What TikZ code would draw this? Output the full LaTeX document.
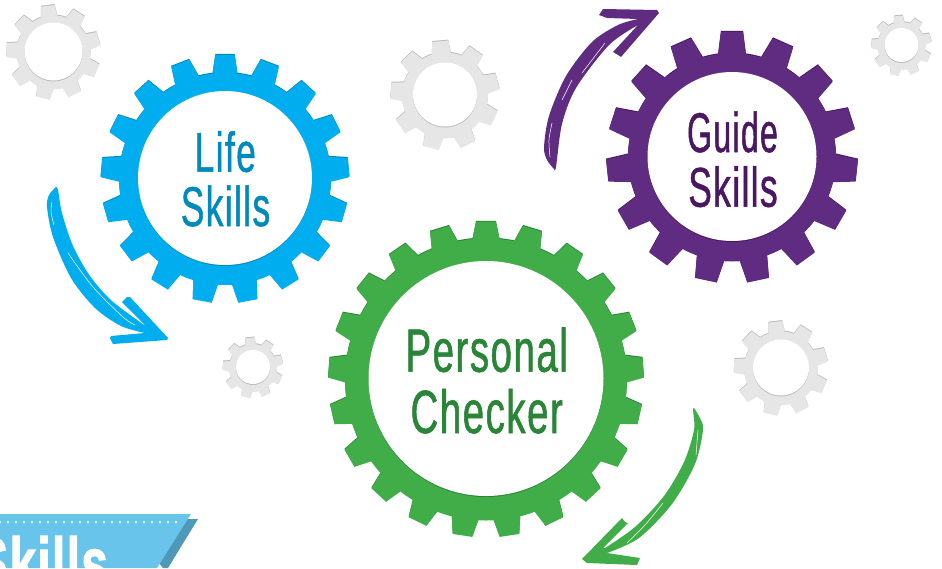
\documentclass[tikz,border=0pt]{standalone}
\usepackage{fontspec}
\usepackage{tikz}
\newfontfamily\gearfont[FakeStretch=0.63,FakeBold=0.9,LetterSpace=2.5]{Liberation Sans}
\newfontfamily\bannerfont[FakeStretch=0.66,FakeBold=1.5,LetterSpace=2]{Liberation Sans}
\definecolor{lifecol}{HTML}{00AEEF}
\definecolor{lifecoldark}{HTML}{0089BD}
\definecolor{guidecol}{HTML}{5F2C82}
\definecolor{guidecoldark}{HTML}{4A1762}
\definecolor{checkcol}{HTML}{41AD49}
\definecolor{checkcoldark}{HTML}{2A8538}
\definecolor{idlecol}{HTML}{E6E6E6}
\definecolor{idlecoldark}{HTML}{BDBDBD}
\definecolor{bannercol}{HTML}{69C4EC}
\definecolor{bannerfold}{HTML}{4F98B8}
\tikzset{
  gearlabel/.style={anchor=base,inner sep=0pt,font=\gearfont\fontsize{56}{56}\selectfont},
  biglabel/.style={gearlabel,font=\gearfont\fontsize{61}{61}\selectfont},
  streak/.style={white,line width=0.5pt,line cap=round},
  bannerdots/.style={white,line width=2.5pt,line cap=round,dash pattern=on 0pt off 8pt}
}
% teeth, rotation, outer radius, root radius
\newcommand{\gearshape}[4]{%
  \fill (0,0) circle (#4);
  \foreach \i in {1,...,#1}{
    \pgfmathsetmacro\a{#2+\i*360/#1}
    \pgfmathsetmacro\w{0.21*360/#1}
    \pgfmathsetmacro\v{0.32*360/#1}
    \fill (\a-\v:#4) -- (\a-\w:#3) -- (\a+\w:#3) -- (\a+\v:#4) -- cycle;
  }
}
% colour, x, y, teeth, rotation, outer, root, hole
\newcommand{\gearwheel}[8]{%
  \begin{scope}[shift={(#2,#3)}]
    \begin{scope}[yshift=1pt,fill=#1dark] \gearshape{#4}{#5}{#6}{#7} \end{scope}
    \begin{scope}[fill=#1] \gearshape{#4}{#5}{#6}{#7} \end{scope}
    \fill[#1dark] (0,0) circle (#8);
    \fill[white] (0,-1) circle (#8);
  \end{scope}
}
\begin{document}
\begin{tikzpicture}[x=1pt,y=-1pt]
\useasboundingbox (0,0) rectangle (942,568);

% idle gears
\gearwheel{idlecol}{53.5}{52.5}{9}{-97}{47.5}{37}{29}
\gearwheel{idlecol}{445}{95.5}{9}{-95}{55}{43}{32}
\gearwheel{idlecol}{901.5}{46}{9}{-96}{30.5}{24}{17}
\gearwheel{idlecol}{253}{368}{9}{-96}{30.5}{24}{17}
\gearwheel{idlecol}{781}{368.5}{9}{-97}{47.5}{37}{28}

% big gears
\gearwheel{lifecol}{225}{179}{17}{-90}{124.5}{106}{87}
\gearwheel{guidecol}{732}{157.5}{15}{-90}{126}{104}{84.5}
\gearwheel{checkcol}{486}{379.5}{21}{-90}{158}{141}{117.5}

\node[gearlabel,lifecoldark] (life) at (225.3,171.7) {Life};
\node[gearlabel,lifecoldark] (lifeskills) at (225.5,226) {Skills};
\node[gearlabel,guidecoldark] (guide) at (732.5,152) {\scalebox{0.91}[1]{Guide}};
\node[gearlabel,guidecoldark] (guideskills) at (733,206.7) {Skills};
\node[biglabel,checkcoldark] (personal) at (486.7,371.7) {Personal};
\node[biglabel,checkcoldark] (checker) at (486.7,433) {Checker};

% blue arrow
\fill[lifecol] plot[smooth] coordinates {(56,187) (49,195) (47,207) (53,237) (71,278) (95,308) (121,326) (145,333)}
  -- (111,336) -- (110,338) -- (113,344) -- (167,340) -- (168,338) -- (130,297) -- (127,297) -- (122,302) -- (147,327)
  -- plot[smooth] coordinates {(147,327) (112,301) (90,276) (73,246) (62,213) (58,190) (56,187)} -- cycle;
\draw[streak] plot[smooth] coordinates {(52,202) (51,212) (54,225)};
\draw[streak] plot[smooth] coordinates {(68,253) (93,287) (123,317) (135,325)};
% purple arrow
\fill[guidecol] plot[smooth] coordinates {(554,169) (547,160) (544,147) (549,116) (566,76) (592,42) (618,25) (638,19)}
  -- (607,18) -- (599,15) -- (603,9) -- (657,10) -- (659,13) -- (621,57) -- (618,55) -- (613,52) -- (638,25)
  -- plot[smooth] coordinates {(638,25) (609,45) (576,88) (562,124) (556,167) (554,169)} -- cycle;
\draw[streak] plot[smooth] coordinates {(550,157) (549,140) (552,123)};
\draw[streak] plot[smooth] coordinates {(562,100) (572,80)};
\draw[streak] plot[smooth] coordinates {(582,73) (605,43)};
% green arrow
\fill[checkcol] plot[smooth] coordinates {(694,408) (700,418) (703,430) (695,464) (672,504) (639,538) (607,553)}
  -- (640,558) -- (637,565) -- (587,563) -- (582,559) -- (622,518) -- (625,522) -- (628,523) -- (603,548)
  -- plot[smooth] coordinates {(605,548) (635,527) (664,496) (684,462) (694,430) (693,410) (694,408)} -- cycle;
\draw[streak] plot[smooth] coordinates {(698,430) (696,455)};
\draw[streak] plot[smooth] coordinates {(663,503) (645,525) (627,543)};

% banner
\fill[bannerfold] (185,519) -- (198,519) -- (168,568) -- (163,568) -- (159,563) -- cycle;
\fill[bannercol] (0,514) -- (191,514) -- (157,568) -- (0,568) -- cycle;
\draw[bannerdots] (0,522) -- (182,522);
\begin{scope}
  \clip (0,500) rectangle (200,568);
  \node[anchor=base east,inner sep=0pt,white,font=\bannerfont\bfseries\fontsize{72}{72}\selectfont] (banner) at (108,588) {Skills};
\end{scope}
\end{tikzpicture}
\end{document}
